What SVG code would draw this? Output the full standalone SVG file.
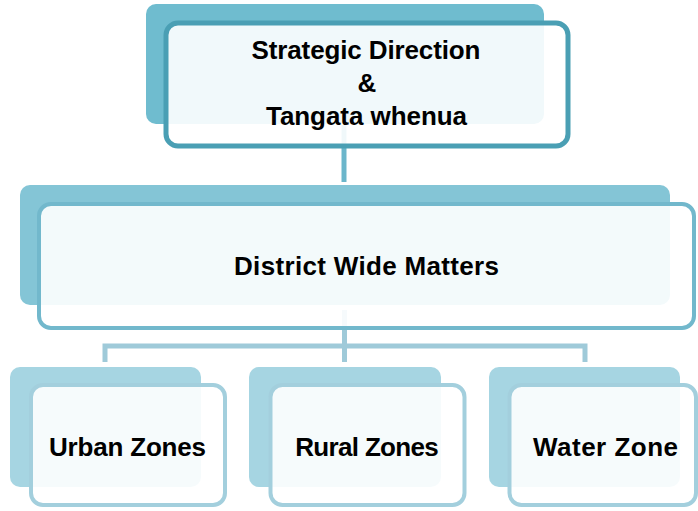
<svg xmlns="http://www.w3.org/2000/svg" width="698" height="511" viewBox="0 0 698 511">
<style>
.t{font-family:"Liberation Sans",Arial,sans-serif;font-weight:bold;font-size:26px;fill:#000;text-anchor:middle}
.fr{fill:#fff;fill-opacity:0.9}
.c1{stroke:#6bb6cb;stroke-width:5;fill:none}
.c2{stroke:#9fcad9;stroke-width:5;fill:none}
</style>
<rect width="698" height="511" fill="#fff"/>
<g id="connectors">
<line class="c1" x1="344" y1="125" x2="344" y2="182"/>
<path class="c2" d="M344.5 310 V362 M105 362 V346 H585 V362"/>
</g>
<g id="node-strategic">
<rect x="146" y="4" width="398" height="120" rx="10" fill="#6fbccf"/>
<rect class="fr" x="166" y="23" width="402" height="123" rx="12" stroke="#4a9fb4" stroke-width="5"/>
<text class="t" x="366" y="59" textLength="229">Strategic Direction</text>
<text class="t" x="367" y="92">&amp;</text>
<text class="t" x="366.5" y="125" textLength="201">Tangata whenua</text>
</g>
<g id="node-district">
<rect x="20" y="185" width="650" height="120" rx="10" fill="#84c5d6"/>
<rect class="fr" x="39" y="204" width="655" height="124" rx="12" stroke="#72b8cc" stroke-width="4"/>
<text class="t" x="366.5" y="275" textLength="265">District Wide Matters</text>
</g>
<g id="node-urban">
<rect x="10" y="367" width="191" height="120" rx="10" fill="#a6d5e2"/>
<rect class="fr" x="31" y="385" width="194" height="120" rx="12" stroke="#a3cfdd" stroke-width="4"/>
<text class="t" x="127.5" y="456" textLength="157">Urban Zones</text>
</g>
<g id="node-rural">
<rect x="249" y="367" width="192" height="120" rx="10" fill="#a6d5e2"/>
<rect class="fr" x="270.5" y="385" width="194" height="120" rx="12" stroke="#a3cfdd" stroke-width="4"/>
<text class="t" x="367" y="456" textLength="143.5">Rural Zones</text>
</g>
<g id="node-water">
<rect x="489" y="367" width="191" height="120" rx="10" fill="#a6d5e2"/>
<rect class="fr" x="509.5" y="385" width="186.5" height="120" rx="12" stroke="#a3cfdd" stroke-width="4"/>
<text class="t" x="605.5" y="456" textLength="145">Water Zone</text>
</g>
</svg>
